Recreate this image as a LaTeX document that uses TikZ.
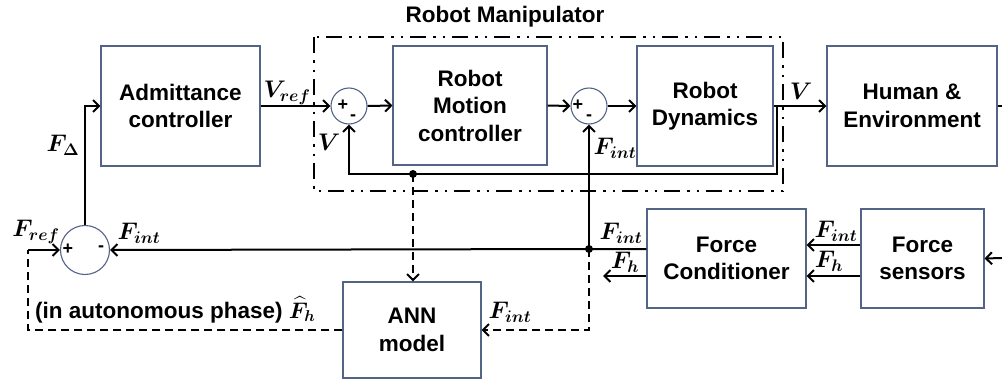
\RequirePackage{fix-cm}
\documentclass[tikz,border=0pt]{standalone}
\usepackage{amsmath}
\usepackage{bm}
\usepackage{fontspec}
\setmainfont{Liberation Sans}
\usetikzlibrary{calc,arrows.meta}
\tikzset{
  block/.style={
    rectangle,
    draw=boxedge,
    line width=1.1pt,
    align=center,
    font=\fontsize{22.5}{27.5}\selectfont\bfseries
  },
  sum-node/.style={circle, draw=boxedge, line width=1.1pt, fill=white, inner sep=0pt},
  sign/.style={font=\fontsize{18}{18}\selectfont\bfseries, inner sep=0pt},
  sig/.style={->, >={Straight Barb[length=6pt,width=12pt]}, line width=2pt},
  sig-dashed/.style={sig, dash pattern=on 8pt off 5pt},
  wire/.style={line width=2pt},
  wire-dashed/.style={line width=2pt, dash pattern=on 8pt off 5pt},
  frame/.style={line width=2pt, dash pattern=on 16pt off 7pt on 2.5pt off 7pt on 2.5pt off 7pt},
  lbl/.style={font=\fontsize{24}{26}\selectfont, inner sep=0pt},
  node-dot/.style={circle, fill=black, minimum size=8pt, inner sep=0pt}
}
\definecolor{boxedge}{RGB}{84,100,135}
\newcommand{\sumsigns}[3]{
  \node[sign] at ($(#1)+(#2)$) {+};
  \node[sign] at ($(#1)+(#3)$) {-};
}

\begin{document}
\begin{tikzpicture}[x=1pt,y=-1pt]
  \useasboundingbox (0,0) rectangle (1002,383);
  % Blocks
  \node[block, minimum width=159pt, minimum height=120pt] (adm) at (180.5,106) {Admittance\\controller};
  \node[block, minimum width=154pt, minimum height=119pt] (motion) at (470,105.5) {Robot\\Motion\\controller};
  \node[block, minimum width=136pt, minimum height=120pt] (dyn) at (705,106) {Robot\\Dynamics};
  \node[block, minimum width=170pt, minimum height=120pt] (human) at (912,106) {Human \&\\Environment};
  \node[block, minimum width=159pt, minimum height=99pt] (cond) at (726.5,258.5) {Force\\Conditioner};
  \node[block, minimum width=123pt, minimum height=99pt] (sensors) at (922.5,258.5) {Force\\sensors};
  \node[block, minimum width=138pt, minimum height=96pt] (ann) at (412,330) {ANN\\model};
  % Summing junctions
  \node[sum-node, minimum size=36pt] (sum-v) at (349,106) {};
  \node[sum-node, minimum size=36pt] (sum-f) at (589,106) {};
  \node[sum-node, minimum size=49pt] (sum-ref) at (85,250) {};
  \sumsigns{sum-v}{-6,-1}{4,12}
  \sumsigns{sum-f}{-11,-1}{0,12}
  \sumsigns{sum-ref}{-17,-1}{16,-1}
  % Robot manipulator frame
  \draw[frame] (314,37) rectangle (783,191);
  \node[font=\fontsize{22.5}{27.5}\selectfont\bfseries] (manip) at (505,17) {Robot Manipulator};
  % Helper points
  \coordinate (v-tap) at (777,106);
  \coordinate (v-corner) at (777,174);
  \coordinate (ann-tap) at (413,174);
  \coordinate (junc) at (589,249);
  \coordinate (fh-end) at (603,276);
  \coordinate (fref-start) at (28,250);
  \coordinate (ext-in) at (1002,258);
  \coordinate (ext-out) at (1002,106);
  % Forward path
  \draw[sig] (adm.east) -- (sum-v.west);
  \draw[sig] (sum-v.east) -- (motion.west);
  \draw[sig] (motion.east) -- (sum-f.west);
  \draw[sig] (sum-f.east) -- (dyn.west);
  \draw[sig] (dyn.east) -- (human.west);
  \draw[wire] (human.east) -- (ext-out);
  % Velocity feedback
  \draw[sig] (v-tap) -- (v-corner) -| (sum-v.south);
  \draw[sig-dashed] (ann-tap) -- (ann-tap |- ann.north);
  \node[node-dot] (dot-v) at (ann-tap) {};
  % Force paths
  \draw[sig] (ext-in) -- (sensors.east);
  \draw[sig] ([yshift=13.5pt]sensors.west) -- ([yshift=13.5pt]cond.east);
  \draw[sig] ([yshift=-17.5pt]sensors.west) -- ([yshift=-17.5pt]cond.east);
  \draw[sig] ([yshift=9.5pt]cond.west) -- (junc) -- (sum-ref.east);
  \draw[sig] ([yshift=-17.5pt]cond.west) -- (fh-end);
  \draw[sig] (junc) -- (sum-f.south);
  \node[node-dot] (dot-f) at (junc) {};
  \draw[sig-dashed] (junc) |- (ann.east);
  \draw[wire-dashed] (ann.west) -| (fref-start);
  \draw[sig] (fref-start) -- (sum-ref.west);
  \draw[sig] (sum-ref.north) |- (adm.west);
  % Signal labels
  \node[lbl] (l-vref) at (287,93) {$\bm{V_{ref}}$};
  \node[lbl] (l-v1) at (329,142) {$\bm{V}$};
  \node[lbl] (l-v2) at (801,91) {$\bm{V}$};
  \node[lbl] (l-fint1) at (615,148) {$\bm{F_{int}}$};
  \node[lbl] (l-fdelta) at (63,145) {$\bm{F_{\Delta}}$};
  \node[lbl] (l-fref) at (36,232) {$\bm{F_{ref}}$};
  \node[lbl] (l-fint2) at (139,233) {$\bm{F_{int}}$};
  \node[lbl] (l-fint3) at (621,233) {$\bm{F_{int}}$};
  \node[lbl] (l-fh1) at (625,262) {$\bm{F_{h}}$};
  \node[lbl] (l-fint4) at (836,231) {$\bm{F_{int}}$};
  \node[lbl] (l-fh2) at (829,261) {$\bm{F_{h}}$};
  \node[lbl] (l-fint5) at (510,312) {$\bm{F_{int}}$};
  \node[lbl, anchor=west] (l-auto) at (35,310) {\fontsize{22.5}{27.5}\selectfont\bfseries (in autonomous phase) $\bm{\widehat{F}_{h}}$};
\end{tikzpicture}
\end{document}
